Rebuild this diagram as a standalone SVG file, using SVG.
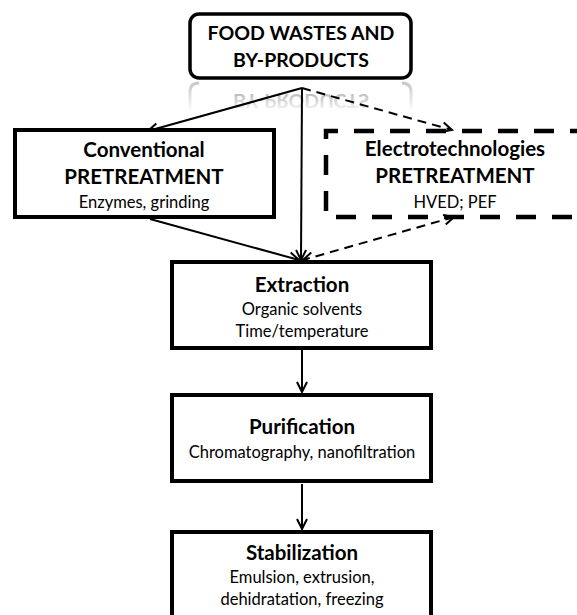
<svg xmlns="http://www.w3.org/2000/svg" width="577" height="615" viewBox="0 0 577 615">
<style>
.box{fill:#fff;stroke:#000;stroke-width:4}
.h{font-family:Lato,"Open Sans",sans-serif;font-weight:bold;font-size:20.5px;fill:#000;text-anchor:middle}
.f{font-size:19.5px}
.t{font-family:Lato,"Open Sans",sans-serif;font-size:16.5px;fill:#000;text-anchor:middle}
.c{fill:none;stroke:#000;stroke-width:2}
.d{stroke-dasharray:9 6}
</style>
<defs>
<marker id="a" markerUnits="userSpaceOnUse" viewBox="-12 -7 14 14" refX="0" refY="0" markerWidth="14" markerHeight="14" orient="auto-start-reverse">
<path d="M-10,-5 L0,0 L-10,5" fill="none" stroke="#000" stroke-width="2"/>
</marker>
<linearGradient id="rg" x1="0" y1="0" x2="0" y2="1">
<stop offset="0" stop-color="#fff"/>
<stop offset="1" stop-color="#b0b0b0"/>
</linearGradient>
<linearGradient id="eg" x1="0" y1="0" x2="0" y2="1">
<stop offset="0" stop-color="#c8c8c8"/>
<stop offset="1" stop-color="#fff"/>
</linearGradient>
</defs>
<g id="reflection">
<text class="h f" x="301" y="67" transform="translate(0,161) scale(1,-1)" style="fill:url(#rg)">BY-PRODUCTS</text>
<path d="M190,112 V92 Q190,83 199,83 M402,83 Q411,83 411,92 V112" fill="none" stroke="url(#eg)" stroke-width="3"/>
</g>
<g id="connectors">
<line class="c" x1="302" y1="88" x2="148" y2="131" marker-end="url(#a)"/>
<line class="c d" x1="302" y1="88" x2="452" y2="130" marker-end="url(#a)"/>
<line class="c" x1="302" y1="88" x2="301" y2="260" marker-end="url(#a)"/>
<line class="c" x1="150" y1="219" x2="299" y2="260" marker-end="url(#a)"/>
<line class="c d" x1="454" y1="217" x2="303" y2="260" marker-start="url(#a)" marker-end="url(#a)"/>
<line class="c" x1="302" y1="350" x2="302" y2="392" marker-end="url(#a)"/>
<line class="c" x1="302" y1="484" x2="302" y2="529" marker-end="url(#a)"/>
</g>
<g id="food">
<rect x="190" y="14" width="221" height="64" rx="9" fill="#fff" stroke="#000" stroke-width="3.5"/>
<text class="h f" x="301" y="40">FOOD WASTES AND</text>
<text class="h f" x="301" y="67">BY-PRODUCTS</text>
</g>
<g id="conventional">
<rect class="box" x="15" y="130" width="259" height="87"/>
<text class="h" x="144" y="157">Conventional</text>
<text class="h" x="144" y="184">PRETREATMENT</text>
<text class="t" x="144" y="208">Enzymes, grinding</text>
</g>
<g id="electro">
<path d="M590,131 H326 V217 H590" fill="none" stroke="#000" stroke-width="4.5" stroke-dasharray="20 16"/>
<text class="h" x="455" y="156">Electrotechnologies</text>
<text class="h" x="455" y="183">PRETREATMENT</text>
<text class="t" x="455" y="208">HVED; PEF</text>
</g>
<g id="extraction">
<rect class="box" x="172" y="262" width="259" height="86"/>
<text class="h" x="302" y="292">Extraction</text>
<text class="t" x="302" y="315">Organic solvents</text>
<text class="t" x="302" y="337">Time/temperature</text>
</g>
<g id="purification">
<rect class="box" x="172" y="395" width="259" height="86"/>
<text class="h" x="302" y="434">Purification</text>
<text class="t" x="302" y="458">Chromatography, nanofiltration</text>
</g>
<g id="stabilization">
<rect class="box" x="172" y="532" width="259" height="100"/>
<text class="h" x="302" y="560">Stabilization</text>
<text class="t" x="302" y="583">Emulsion, extrusion,</text>
<text class="t" x="302" y="605">dehidratation, freezing</text>
</g>
</svg>
